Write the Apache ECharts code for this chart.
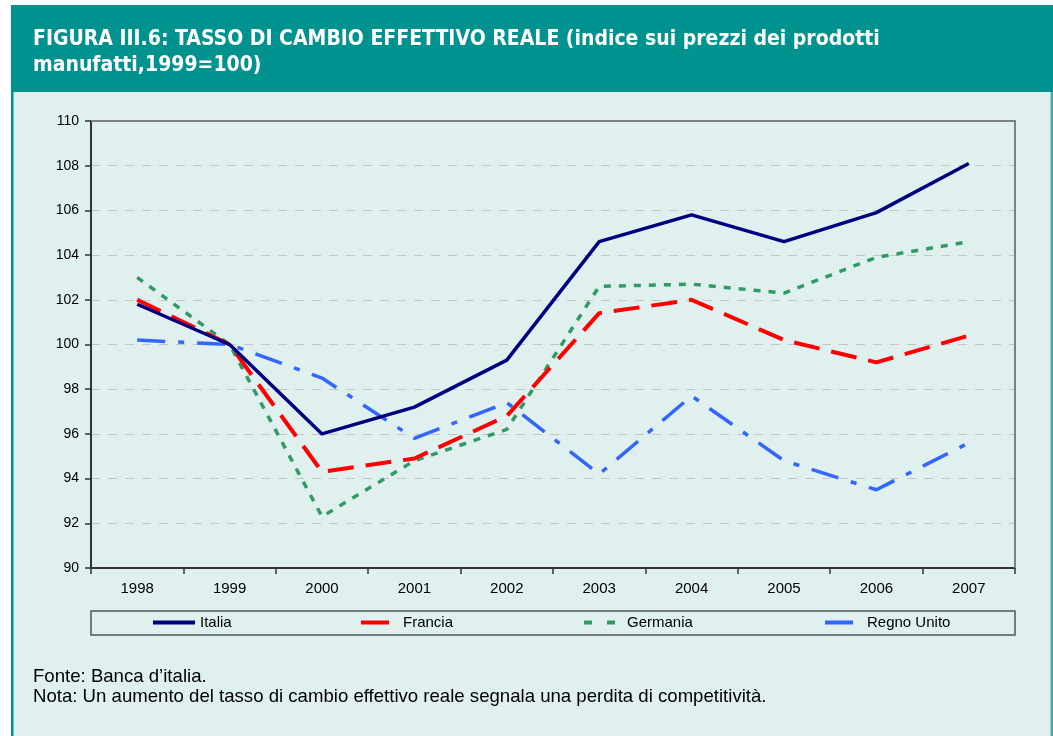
<!DOCTYPE html>
<html>
<head>
<meta charset="utf-8">
<script src="https://cdn.jsdelivr.net/npm/echarts@6/dist/echarts.min.js"></script>
<style>
html,body{margin:0;padding:0;background:#ffffff;}
#chart{width:1053px;height:736px;}
</style>
</head>
<body>
<div id="chart"></div>
<script>
const years = ['1998','1999','2000','2001','2002','2003','2004','2005','2006','2007'];
const italia   = [101.8, 100.0, 96.0, 97.2, 99.3, 104.6, 105.8, 104.6, 105.9, 108.1];
const francia  = [102.0, 100.0, 94.3, 94.9, 96.8, 101.4, 102.0, 100.2, 99.2, 100.4];
const germania = [103.0, 100.0, 92.3, 94.8, 96.2, 102.6, 102.7, 102.3, 103.9, 104.6];
const regno    = [100.2, 100.0, 98.5, 95.8, 97.4, 94.2, 97.7, 94.8, 93.5, 95.6];
const seriesNames = ['Italia','Francia','Germania','Regno Unito'];
const titleText = 'FIGURA III.6: TASSO DI CAMBIO EFFETTIVO REALE (indice sui prezzi dei prodotti\nmanufatti,1999=100)';
const noteText = 'Fonte: Banca d\u2019italia.\nNota: Un aumento del tasso di cambio effettivo reale segnala una perdita di competitività.';

const TEAL = '#00928f';
const BG = '#dff0ef';
const FONT = '"Liberation Sans", Arial, sans-serif';
const COLORS = ['#000080', '#ff0000', '#339966', '#3366ff'];

const chart = echarts.init(document.getElementById('chart'), null, {renderer:'canvas'});

function legendFor(idx, left, width, pad, lineType){
  return {
    data:[seriesNames[idx]],
    left:left, top:615,
    itemWidth:width, itemHeight:12,
    padding:0,
    textStyle:{fontFamily:FONT, fontSize:15, color:'#000', padding:[0,0,0,pad]},
    itemStyle:{opacity:0},
    lineStyle:{type:lineType, width:4, color:COLORS[idx], opacity:1},
    selectedMode:false
  };
}

const option = {
  backgroundColor: '#ffffff',
  animation:false,
  graphic:[
    {type:'rect', shape:{x:11,y:5,width:1042,height:87}, style:{fill:TEAL}, z:-10, silent:true},
    {type:'rect', shape:{x:11,y:92,width:1042,height:644}, style:{fill:BG}, z:-10, silent:true},
    {type:'rect', shape:{x:11,y:92,width:2.5,height:644}, style:{fill:TEAL}, z:-9, silent:true},
    {type:'rect', shape:{x:1050.5,y:92,width:2.5,height:644}, style:{fill:'#3fb0ad'}, z:-9, silent:true},
    {type:'rect', shape:{x:91,y:611,width:924,height:24}, style:{fill:'none', stroke:'#555555', lineWidth:1.5}, z:-5, silent:true},
    {type:'polyline', shape:{points:[[91,121],[1015,121],[1015,568]]}, style:{fill:'none', stroke:'#808080', lineWidth:2}, z:1, silent:true}
  ],
  title:[
    {text:titleText, left:33, top:27, padding:0,
     textStyle:{color:'#ffffff', fontFamily:'"DejaVu Sans Condensed","DejaVu Sans", sans-serif', fontWeight:'bold', fontSize:21, lineHeight:25.5}},
    {text:noteText, left:33, top:667, padding:0,
     textStyle:{color:'#000000', fontFamily:FONT, fontWeight:'normal', fontSize:18.6, lineHeight:20}}
  ],
  legend:[
    legendFor(0, 151, 42, 0, 'solid'),
    legendFor(1, 359, 28, 9, 'solid'),
    legendFor(2, 582, 31, 7, [8,15]),
    legendFor(3, 823, 28, 9, 'solid')
  ],
  grid:{left:91, right:38, top:121, bottom:168, show:false},
  xAxis:{
    type:'category', data:years, boundaryGap:true,
    axisLine:{lineStyle:{color:'#333333', width:2}},
    axisTick:{show:true, inside:false, length:6, lineStyle:{color:'#333333', width:1.5}, alignWithLabel:false},
    axisLabel:{color:'#000', fontFamily:FONT, fontSize:15, margin:13}
  },
  yAxis:{
    type:'value', min:90, max:110, interval:2,
    axisLine:{show:true, lineStyle:{color:'#333333', width:2}},
    axisTick:{show:true, length:6, lineStyle:{color:'#333333', width:1.5}},
    axisLabel:{color:'#000', fontFamily:FONT, fontSize:14, margin:12},
    splitLine:{show:true, lineStyle:{color:'#c4c4c4', type:[9,8], width:1}}
  },
  series:[
    {name:'Italia', type:'line', data:italia, symbol:'none', z:5,
     lineStyle:{color:COLORS[0], width:3.5, type:'solid'}, itemStyle:{color:COLORS[0]}},
    {name:'Francia', type:'line', data:francia, symbol:'none', z:4,
     lineStyle:{color:COLORS[1], width:4, type:[26,12]}, itemStyle:{color:COLORS[1]}},
    {name:'Germania', type:'line', data:germania, symbol:'none', z:3,
     lineStyle:{color:COLORS[2], width:3.5, type:[7,8]}, itemStyle:{color:COLORS[2]}},
    {name:'Regno Unito', type:'line', data:regno, symbol:'none', z:2,
     lineStyle:{color:COLORS[3], width:3.5, type:[28,13,6,13]}, itemStyle:{color:COLORS[3]}}
  ]
};
chart.setOption(option);
</script>
</body>
</html>
